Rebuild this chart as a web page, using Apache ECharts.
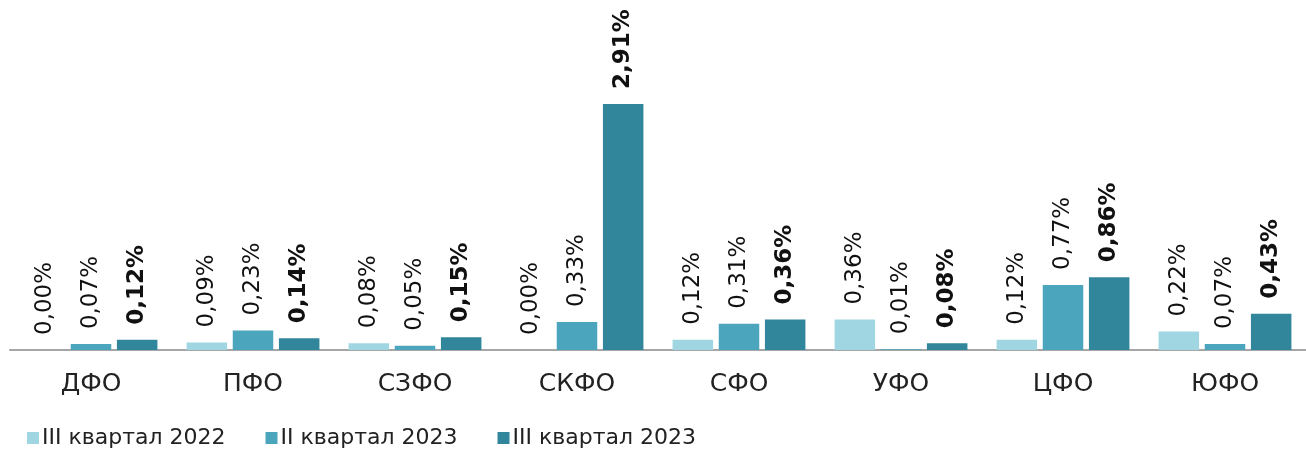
<!DOCTYPE html>
<html>
<head>
<meta charset="utf-8">
<script src="https://cdn.jsdelivr.net/npm/echarts@6/dist/echarts.min.js"></script>
<style>
  html, body { margin: 0; padding: 0; background: #ffffff; }
  #chart { width: 1306px; height: 450px; }
</style>
</head>
<body>
<div id="chart"></div>
<script>
// Federal districts
const categories = ['ДФО', 'ПФО', 'СЗФО', 'СКФО', 'СФО', 'УФО', 'ЦФО', 'ЮФО'];
// Shares, %
const q3_2022 = [0.00, 0.09, 0.08, 0.00, 0.12, 0.36, 0.12, 0.22];
const q2_2023 = [0.07, 0.23, 0.05, 0.33, 0.31, 0.01, 0.77, 0.07];
const q3_2023 = [0.12, 0.14, 0.15, 2.91, 0.36, 0.08, 0.86, 0.43];
const seriesNames = ['III квартал 2022', 'II квартал 2023', 'III квартал 2023'];
const colors = ['#A0D6E1', '#4BA5BC', '#31869B'];

const FONT = 'DejaVu Sans';

function fmt(v) {
  return v.toFixed(2).replace('.', ',') + '%';
}

function makeSeries(name, data, color, bold) {
  return {
    name: name,
    type: 'bar',
    data: data,
    barGap: '14%',
    barCategoryGap: '18%',
    itemStyle: { color: color },
    label: {
      show: true,
      position: 'top',
      rotate: 90,
      align: 'left',
      verticalAlign: 'middle',
      distance: 15,
      fontFamily: FONT,
      fontSize: 23,
      fontWeight: bold ? 'bold' : 'normal',
      color: '#111111',
      formatter: p => fmt(p.value)
    }
  };
}

const chart = echarts.init(document.getElementById('chart'), null, { renderer: 'canvas' });
chart.setOption({
  animation: false,
  backgroundColor: '#ffffff',
  textStyle: { fontFamily: FONT },
  grid: { left: 10, right: 0, top: 12, bottom: 100, containLabel: false },
  legend: {
    left: 22,
    bottom: -4,
    itemWidth: 12,
    itemHeight: 12,
    itemGap: 40,
    icon: 'rect',
    textStyle: { fontFamily: FONT, fontSize: 22, color: '#222222', padding: [0, 0, 0, -2] },
    data: seriesNames
  },
  xAxis: {
    type: 'category',
    data: categories,
    axisLine: { lineStyle: { color: '#A6A6A6', width: 2 } },
    axisTick: { show: false },
    axisLabel: { fontFamily: FONT, fontSize: 25, color: '#222222', margin: 22 }
  },
  yAxis: {
    type: 'value',
    min: 0,
    max: 4,
    show: false,
    splitLine: { show: false }
  },
  series: [
    makeSeries(seriesNames[0], q3_2022, colors[0], false),
    makeSeries(seriesNames[1], q2_2023, colors[1], false),
    makeSeries(seriesNames[2], q3_2023, colors[2], true)
  ]
});
</script>
</body>
</html>
